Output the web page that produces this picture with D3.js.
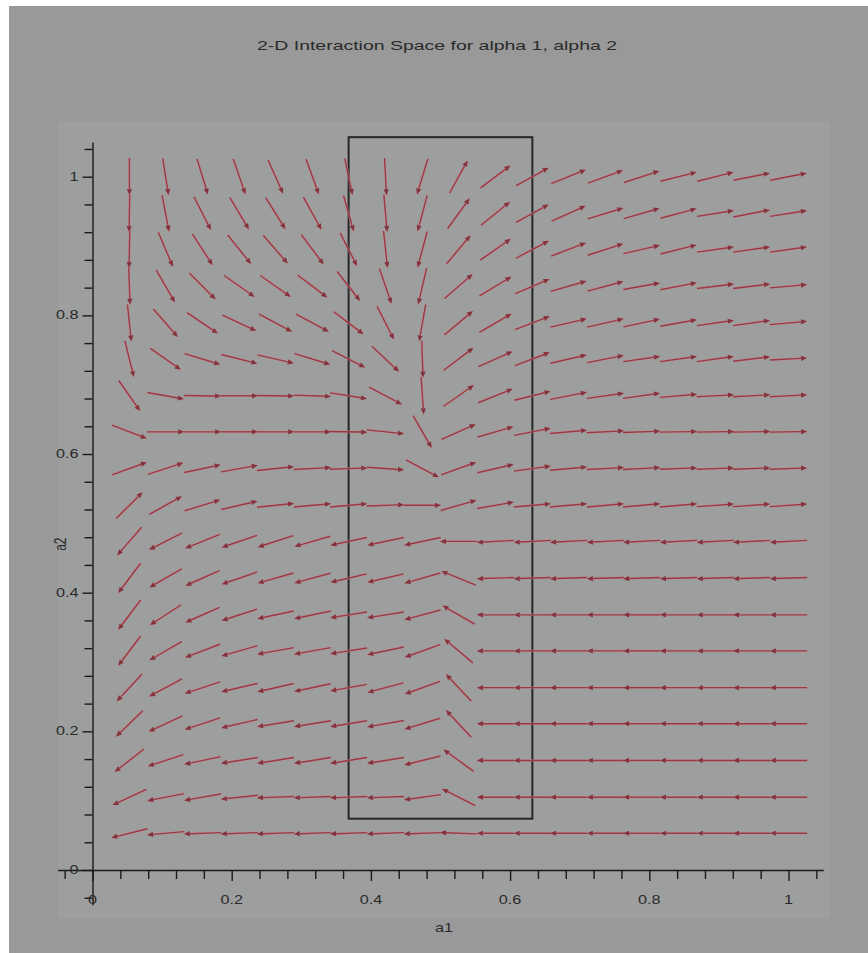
<!DOCTYPE html>
<html>
<head>
<meta charset="utf-8">
<script src="https://cdn.jsdelivr.net/npm/d3@7"></script>
<style>
  body { margin: 0; background: #fff; }
  text { font-family: "Liberation Sans", Arial, sans-serif; }
</style>
</head>
<body>
<script>
// grid of the field plot (arrow centres)
const alpha1 = [0.053, 0.105, 0.158, 0.211, 0.263, 0.316, 0.368, 0.421, 0.474, 0.526,
                0.579, 0.632, 0.684, 0.737, 0.789, 0.842, 0.895, 0.947, 1.0];
// top row first
const alpha2 = [1.0, 0.947, 0.895, 0.842, 0.789, 0.737, 0.684, 0.632, 0.579, 0.526,
                0.474, 0.421, 0.368, 0.316, 0.263, 0.211, 0.158, 0.105, 0.053];

// arrow direction in degrees (0 = right, 90 = up), one row per alpha2 value
const arrowAngle = [
  [-90, -81, -73, -71, -66, -70, -78, -87, -107, 61, 37, 29, 22, 20, 18, 14, 14, 11, 11],
  [-91, -79, -63, -59, -58, -61, -74, -85, -105, 54, 39, 29, 24, 17, 16, 15, 9, 11, 9],
  [-91, -67, -57, -51, -49, -53, -63, -84, -105, 50, 35, 28, 21, 18, 13, 14, 8, 8, 8],
  [-88, -60, -45, -35, -35, -37, -52, -71, -103, 41, 31, 23, 16, 15, 10, 11, 7, 7, 5],
  [-84, -49, -34, -25, -28, -28, -37, -63, -100, 40, 30, 21, 13, 13, 12, 10, 8, 8, 5],
  [-76, -35, -17, -14, -13, -17, -27, -43, -88, 37, 24, 21, 13, 11, 8, 8, 8, 7, 3],
  [-55, -10, -1, 0, -1, -2, -9, -28, -86, 35, 22, 14, 11, 8, 8, 5, 3, 3, 3],
  [-21, 0, 0, 0, 0, 0, -1, -6, -60, 24, 16, 11, 5, 3, 2, 1, 1, 1, 1],
  [20, 18, 12, 10, 6, 3, 2, -4, -28, 20, 13, 8, 5, 3, 3, 2, 2, 2, 2],
  [45, 29, 17, 13, 6, 5, 5, 2, 0, 16, 10, 5, 5, 5, 5, 5, 4, 4, 4],
  [-131, -153, -158, -161, -162, -164, -168, -168, -168, 180, -177, -177, -177, -177, -177, -177, -177, -177, -177],
  [-127, -150, -156, -161, -164, -165, -167, -167, -164, 158, -178, -178, -178, -178, -178, -178, -178, -178, -178],
  [-127, -147, -156, -162, -168, -168, -171, -171, -165, 150, 180, 180, 180, 180, 180, 180, 180, 180, 180],
  [-127, -150, -159, -164, -170, -170, -171, -168, -160, 140, 180, 180, 180, 180, 180, 180, 180, 180, 180],
  [-133, -152, -162, -167, -167, -168, -170, -165, -160, 133, 180, 180, 180, 180, 180, 180, 180, 180, 180],
  [-136, -155, -162, -167, -171, -171, -171, -170, -163, 133, 180, 180, 180, 180, 180, 180, 180, 180, 180],
  [-142, -162, -168, -171, -171, -171, -171, -171, -166, 144, 180, 180, 180, 180, 180, 180, 180, 180, 180],
  [-155, -169, -170, -174, -178, -178, -178, -178, -172, 153, 180, 180, 180, 180, 180, 180, 180, 180, 180],
  [-166, -175, -178, -178, -178, -178, -178, -178, -178, 178, 180, 180, 180, 180, 180, 180, 180, 180, 180]
];

// region marked with the black rectangle
const boxA1 = [0.368, 0.632];
const boxA2 = [0.074, 1.057];

const majorTicks = [0, 0.2, 0.4, 0.6, 0.8, 1];
const tickLabels = ["0", "0.2", "0.4", "0.6", "0.8", "1"];
const minorTicks = [-0.04, 0.04, 0.08, 0.12, 0.16, 0.24, 0.28, 0.32, 0.36, 0.44, 0.48, 0.52, 0.56,
                    0.64, 0.68, 0.72, 0.76, 0.84, 0.88, 0.92, 0.96, 1.04];

const W = 868, H = 953;
const svg = d3.select("body").append("svg").attr("width", W).attr("height", H);

svg.append("rect").attr("x", 9).attr("y", 6).attr("width", W - 9).attr("height", H - 6).attr("fill", "#999999");

const x = d3.scaleLinear().domain([0, 1]).range([92.5, 788.5]);
const y = d3.scaleLinear().domain([0, 1]).range([870, 176.7]);

svg.append("rect")
  .attr("x", x(-0.05)).attr("y", y(1.08))
  .attr("width", x(1.06) - x(-0.05)).attr("height", y(-0.07) - y(1.08))
  .attr("fill", "#9d9e9e");

// title
svg.append("text")
  .attr("x", 437).attr("y", 50)
  .attr("text-anchor", "middle")
  .attr("font-size", 13)
  .attr("textLength", 360).attr("lengthAdjust", "spacingAndGlyphs")
  .attr("fill", "#2a2a2a")
  .text("2-D Interaction Space for alpha 1, alpha 2");

// axes
const xa = d3.scaleLinear().domain([-0.05, 1.05]).range([x(-0.05), x(1.05)]);
const ya = d3.scaleLinear().domain([-0.05, 1.05]).range([y(-0.05), y(1.05)]);

const gx = svg.append("g").attr("transform", `translate(0,${y(0)})`);
gx.call(d3.axisBottom(xa).tickValues(minorTicks).tickSize(9).tickSizeOuter(0).tickFormat(""));
gx.append("g").call(d3.axisBottom(xa).tickValues(majorTicks).tickSize(11).tickSizeOuter(0).tickFormat(""))
  .select(".domain").remove();

const gy = svg.append("g").attr("transform", `translate(${x(0)},0)`);
gy.call(d3.axisLeft(ya).tickValues(minorTicks).tickSize(8).tickSizeOuter(0).tickFormat(""));
gy.append("g").call(d3.axisLeft(ya).tickValues(majorTicks).tickSize(10).tickSizeOuter(0).tickFormat(""))
  .select(".domain").remove();

svg.selectAll(".domain, .tick line").attr("stroke", "#1a1a1a").attr("stroke-width", 1.4);

// tick labels (text is stretched sideways like in the picture)
svg.append("g").selectAll("text").data(majorTicks).join("text")
  .attr("transform", d => `translate(${x(d)},${y(0) + 34}) scale(1.35,1)`)
  .attr("text-anchor", "middle").attr("font-size", 12).attr("fill", "#2a2a2a")
  .text((d, i) => tickLabels[i]);

svg.append("g").selectAll("text").data(majorTicks).join("text")
  .attr("transform", d => `translate(${x(0) - 14},${y(d) + 4}) scale(1.35,1)`)
  .attr("text-anchor", "end").attr("font-size", 12).attr("fill", "#2a2a2a")
  .text((d, i) => tickLabels[i]);

// axis names
svg.append("text")
  .attr("transform", `translate(${x(0.505)},${y(0) + 62}) scale(1.35,1)`)
  .attr("text-anchor", "middle").attr("font-size", 12).attr("fill", "#2a2a2a")
  .text("a1");
svg.append("text")
  .attr("transform", `translate(66,${y(0.47)}) rotate(-90) scale(1,1.35)`)
  .attr("text-anchor", "middle").attr("font-size", 12).attr("fill", "#2a2a2a")
  .text("a2");

// rectangle
svg.append("rect")
  .attr("x", x(boxA1[0])).attr("y", y(boxA2[1]))
  .attr("width", x(boxA1[1]) - x(boxA1[0])).attr("height", y(boxA2[0]) - y(boxA2[1]))
  .attr("fill", "none").attr("stroke", "#262626").attr("stroke-width", 2);

// field arrows
const cells = [];
alpha2.forEach((b, r) => alpha1.forEach((a, c) => cells.push({a, b, ang: arrowAngle[r][c]})));

const half = (x(alpha1[1]) - x(alpha1[0])) * 0.515;
const headLen = 6, headW = 2.6;

const arrows = svg.append("g");
cells.forEach(d => {
  const cx = x(d.a), cy = y(d.b);
  const t = d.ang * Math.PI / 180;
  const ux = Math.cos(t), uy = -Math.sin(t);
  const x0 = cx - ux * half, y0 = cy - uy * half;
  const x1 = cx + ux * half, y1 = cy + uy * half;
  const bx = x1 - ux * headLen, by = y1 - uy * headLen;
  const px = -uy, py = ux;
  arrows.append("line")
    .attr("x1", x0).attr("y1", y0).attr("x2", x1).attr("y2", y1)
    .attr("stroke", "#d08890").attr("stroke-width", 3).attr("stroke-opacity", 0.4);
  arrows.append("line")
    .attr("x1", x0).attr("y1", y0).attr("x2", bx).attr("y2", by)
    .attr("stroke", "#983a44").attr("stroke-width", 1.4);
  arrows.append("path")
    .attr("d", `M${x1},${y1}L${bx + px * headW},${by + py * headW}L${bx - px * headW},${by - py * headW}Z`)
    .attr("fill", "#84323c");
});
</script>
</body>
</html>
